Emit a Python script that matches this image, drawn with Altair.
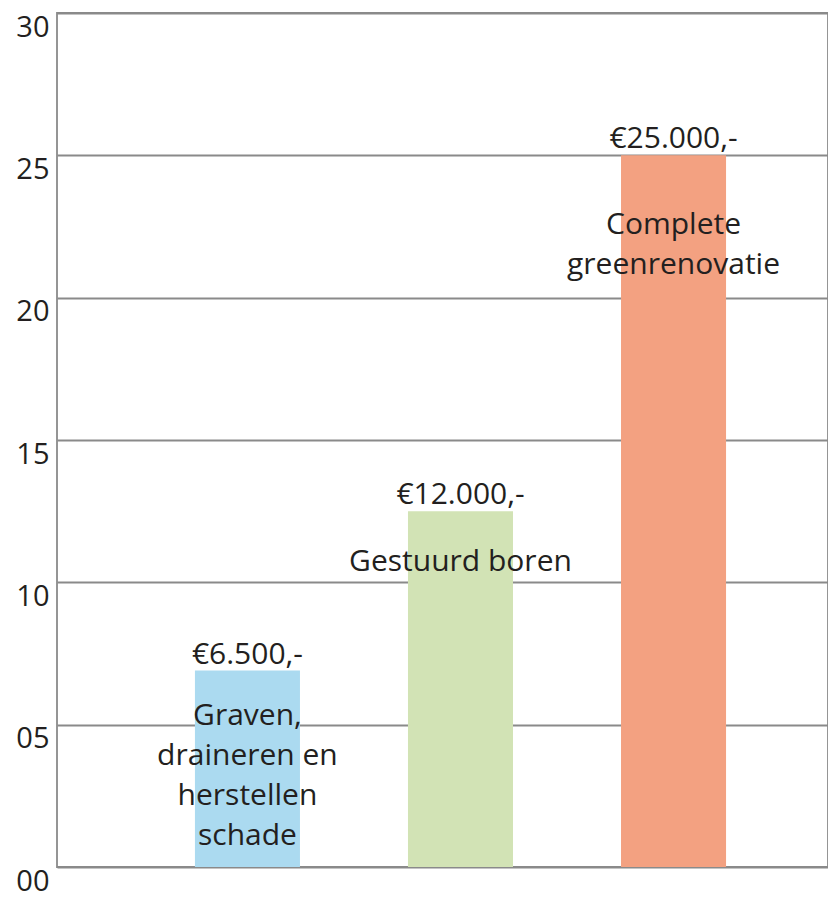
import altair as alt
import pandas as pd

categories = ["graven", "boren", "renovatie"]
values = [6.9, 12.5, 25.0]
value_labels = ["€6.500,-", "€12.000,-", "€25.000,-"]
category_labels = ["Graven,\ndraineren en\nherstellen\nschade", "Gestuurd boren", "Complete\ngreenrenovatie"]
colors = ["#ABDAF0", "#D2E3B5", "#F3A181"]
label_offsets = [54, 60, 79]

df = pd.DataFrame({
    "cat": categories,
    "value": values,
    "vlabel": value_labels,
    "clabel": category_labels,
})

FONT = "Open Sans"
TXT = "#231f20"

x = alt.X("cat:N", sort=categories,
          scale=alt.Scale(paddingInner=0.507, paddingOuter=0.563, align=0.575),
          axis=None)
y = alt.Y("value:Q", scale=alt.Scale(domain=[0, 30], nice=False),
          axis=alt.Axis(values=[0, 5, 10, 15, 20, 25, 30], format="02d", title=None,
                        grid=True, gridColor="#8a8a8a", gridWidth=1.8,
                        domain=False, ticks=False,
                        labelFont=FONT, labelFontSize=29, labelColor=TXT,
                        labelBaseline="top", labelAlign="right", labelPadding=8,
                        labelOffset=0))

bars = alt.Chart(df).mark_bar().encode(
    x=x, y=y,
    color=alt.Color("cat:N", scale=alt.Scale(domain=categories, range=colors), legend=None),
)

vtext = alt.Chart(df).mark_text(font=FONT, fontSize=30, color=TXT, baseline="alphabetic", dy=-7).encode(
    x=x, y="value:Q", text="vlabel:N")

layers = [bars, vtext]
for c, off in zip(categories, label_offsets):
    layers.append(
        alt.Chart(df).transform_filter(alt.datum.cat == c).transform_calculate(
            lines="split(datum.clabel, '\\n')"
        ).mark_text(font=FONT, fontSize=30, color=TXT, baseline="alphabetic",
                    lineHeight=40, dy=off).encode(x=x, y="value:Q", text="lines:N")
    )

chart = alt.layer(*layers).properties(
    width=771, height=854,
    autosize=alt.AutoSizeParams(type="none"),
    padding={"left": 49, "top": 5, "right": 0, "bottom": 28},
).configure_view(stroke="#8a8a8a", strokeWidth=1.8)

chart.save("out.html", embed_options={"renderer": "svg", "actions": False})
